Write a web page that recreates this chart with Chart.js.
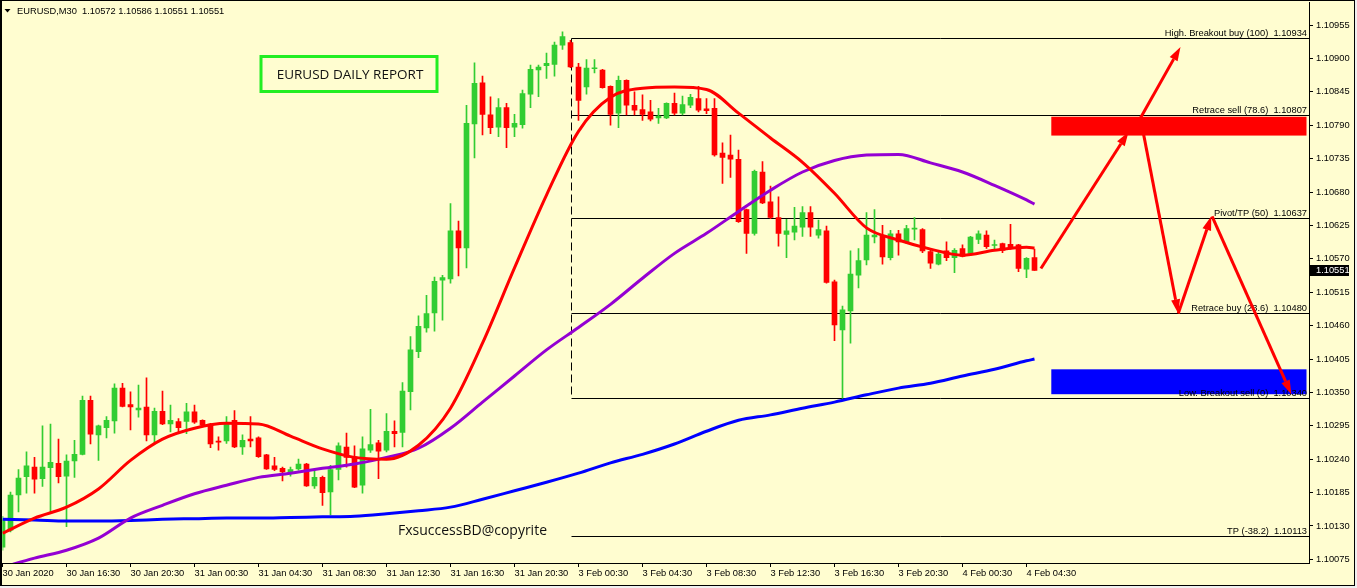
<!DOCTYPE html>
<html><head><meta charset="utf-8">
<script src="https://cdn.jsdelivr.net/npm/chart.js@4.4.1/dist/chart.umd.min.js"></script>
<style>
html,body{margin:0;padding:0;background:#f0f0f0;}
canvas{display:block;}
</style></head><body>
<canvas id="c" width="1357" height="588"></canvas>
<script>
const symbol = "EURUSD";
const timeframe = "M30";

const opens = [1.10095,1.10123,1.10181,1.10211,1.10227,1.10208,1.10226,1.10233,1.10212,1.10237,
1.10248,1.10337,1.10280,1.10292,1.10303,1.10357,1.10330,1.10321,1.10326,1.10280,
1.10319,1.10298,1.10302,1.10302,1.10318,1.10304,1.10298,1.10269,1.10270,1.10304,
1.10260,1.10273,1.10275,1.10247,1.10229,1.10225,1.10219,1.10224,1.10232,1.10196,
1.10210,1.10186,1.10223,1.10260,1.10244,1.10197,1.10255,1.10267,1.10255,1.10286,
1.10284,1.10351,1.10417,1.10456,1.10481,1.10535,1.10537,1.10616,1.10588,1.10792,
1.10860,1.10807,1.10787,1.10819,1.10787,1.10791,1.10841,1.10881,1.10888,1.10890,
1.10922,1.10926,1.10886,1.10853,1.10883,1.10881,1.10854,1.10810,1.10864,1.10823,
1.10816,1.10812,1.10802,1.10802,1.10826,1.10810,1.10823,1.10834,1.10817,1.10818,
1.10744,1.10741,1.10734,1.10651,1.10612,1.10713,1.10664,1.10638,1.10610,1.10614,
1.10622,1.10646,1.10609,1.10616,1.10532,1.10453,1.10484,1.10543,1.10568,1.10606,
1.10607,1.10572,1.10611,1.10598,1.10619,1.10618,1.10582,1.10561,1.10583,1.10572,
1.10587,1.10579,1.10602,1.10609,1.10592,1.10595,1.10594,1.10593,1.10553,1.10572];

const highs = [1.10146,1.10186,1.10223,1.10252,1.10243,1.10295,1.10298,1.10273,1.10247,1.10271,
1.10344,1.10344,1.10296,1.10310,1.10364,1.10365,1.10351,1.10362,1.10374,1.10324,
1.10352,1.10329,1.10307,1.10332,1.10329,1.10305,1.10299,1.10277,1.10310,1.10320,
1.10280,1.10310,1.10277,1.10248,1.10243,1.10227,1.10227,1.10240,1.10233,1.10222,
1.10212,1.10230,1.10267,1.10283,1.10262,1.10277,1.10322,1.10271,1.10315,1.10303,
1.10366,1.10442,1.10476,1.10510,1.10540,1.10543,1.10661,1.10632,1.10823,1.10893,
1.10871,1.10837,1.10834,1.10826,1.10808,1.10848,1.10889,1.10889,1.10909,1.10927,
1.10944,1.10930,1.10892,1.10898,1.10898,1.10882,1.10855,1.10871,1.10865,1.10845,
1.10840,1.10831,1.10818,1.10827,1.10843,1.10838,1.10841,1.10854,1.10834,1.10834,
1.10761,1.10774,1.10749,1.10652,1.10716,1.10730,1.10690,1.10672,1.10635,1.10655,
1.10656,1.10656,1.10634,1.10624,1.10535,1.10492,1.10583,1.10587,1.10646,1.10651,
1.10625,1.10617,1.10617,1.10625,1.10638,1.10620,1.10584,1.10582,1.10598,1.10587,
1.10593,1.10607,1.10616,1.10616,1.10601,1.10596,1.10627,1.10594,1.10572,1.10586];

const lows = [1.10090,1.10120,1.10153,1.10184,1.10184,1.10195,1.10153,1.10201,1.10129,1.10210,
1.10247,1.10265,1.10238,1.10275,1.10283,1.10326,1.10288,1.10309,1.10270,1.10267,
1.10297,1.10285,1.10285,1.10282,1.10299,1.10293,1.10259,1.10255,1.10266,1.10259,
1.10248,1.10260,1.10243,1.10223,1.10221,1.10204,1.10212,1.10222,1.10195,1.10192,
1.10164,1.10148,1.10206,1.10227,1.10193,1.10184,1.10251,1.10208,1.10252,1.10260,
1.10260,1.10321,1.10407,1.10449,1.10451,1.10469,1.10530,1.10542,1.10555,1.10736,
1.10774,1.10776,1.10771,1.10753,1.10771,1.10785,1.10819,1.10837,1.10867,1.10871,
1.10915,1.10885,1.10798,1.10841,1.10876,1.10851,1.10790,1.10786,1.10807,1.10807,
1.10798,1.10797,1.10793,1.10801,1.10807,1.10807,1.10819,1.10812,1.10809,1.10739,
1.10694,1.10704,1.10630,1.10579,1.10609,1.10661,1.10636,1.10591,1.10572,1.10601,
1.10607,1.10607,1.10604,1.10530,1.10435,1.10340,1.10431,1.10522,1.10560,1.10596,
1.10561,1.10568,1.10576,1.10595,1.10601,1.10580,1.10554,1.10560,1.10567,1.10547,
1.10573,1.10576,1.10595,1.10587,1.10584,1.10580,1.10586,1.10549,1.10539,1.10551];

const closes = [1.10140,1.10181,1.10209,1.10229,1.10207,1.10227,1.10235,1.10211,1.10237,1.10248,
1.10337,1.10281,1.10295,1.10304,1.10357,1.10327,1.10326,1.10324,1.10280,1.10319,
1.10298,1.10304,1.10292,1.10318,1.10301,1.10296,1.10265,1.10268,1.10300,1.10260,
1.10271,1.10270,1.10244,1.10224,1.10223,1.10219,1.10223,1.10232,1.10196,1.10210,
1.10185,1.10223,1.10262,1.10243,1.10194,1.10257,1.10264,1.10253,1.10286,1.10282,
1.10352,1.10420,1.10459,1.10480,1.10533,1.10539,1.10616,1.10588,1.10793,1.10859,
1.10808,1.10786,1.10819,1.10786,1.10793,1.10842,1.10882,1.10886,1.10892,1.10922,
1.10936,1.10886,1.10831,1.10884,1.10884,1.10852,1.10808,1.10864,1.10823,1.10815,
1.10808,1.10800,1.10805,1.10826,1.10810,1.10824,1.10836,1.10815,1.10814,1.10741,
1.10737,1.10734,1.10631,1.10612,1.10714,1.10662,1.10638,1.10612,1.10616,1.10624,
1.10646,1.10622,1.10618,1.10531,1.10461,1.10486,1.10545,1.10567,1.10609,1.10609,
1.10573,1.10611,1.10598,1.10620,1.10620,1.10583,1.10563,1.10578,1.10572,1.10584,
1.10574,1.10606,1.10611,1.10590,1.10593,1.10584,1.10589,1.10554,1.10571,1.10551];

// moving averages at these bar numbers
const maBars = [0,4,8,12,16,20,24,28,32,36,40,44,48,52,56,60,64,68,72,76,80,84,88,92,96,100,104,108,112,116,120,124,128,129];
const maFast = [1.10118,1.10143,1.10161,1.10191,1.10238,1.10273,1.10291,1.10299,1.10298,1.10278,1.10257,1.10243,1.10240,1.10263,1.10324,1.10431,1.10555,1.10675,1.10780,1.10836,1.10851,1.10853,1.10849,1.10810,1.10769,1.10729,1.10678,1.10621,1.10601,1.10586,1.10576,1.10584,1.10589,1.10588];
const maMid = [1.10062,1.10077,1.10090,1.10110,1.10143,1.10164,1.10183,1.10197,1.10210,1.10217,1.10225,1.10232,1.10243,1.10258,1.10291,1.10334,1.10377,1.10420,1.10457,1.10495,1.10538,1.10579,1.10612,1.10648,1.10683,1.10713,1.10732,1.10741,1.10742,1.10728,1.10713,1.10691,1.10667,1.10660];
const maSlow = [1.10141,1.10140,1.10138,1.10138,1.10139,1.10141,1.10142,1.10143,1.10143,1.10144,1.10145,1.10146,1.10150,1.10155,1.10161,1.10174,1.10188,1.10202,1.10217,1.10234,1.10248,1.10265,1.10286,1.10304,1.10313,1.10324,1.10334,1.10346,1.10357,1.10365,1.10377,1.10388,1.10402,1.10405];

const xTickBars = [0,8,16,24,32,40,48,56,64,72,80,88,96,104,112,120,128];
const xTickLabels = ["30 Jan 2020","30 Jan 16:30","30 Jan 20:30","31 Jan 00:30","31 Jan 04:30","31 Jan 08:30","31 Jan 12:30","31 Jan 16:30","31 Jan 20:30","3 Feb 00:30","3 Feb 04:30","3 Feb 08:30","3 Feb 12:30","3 Feb 16:30","3 Feb 20:30","4 Feb 00:30","4 Feb 04:30"];
const yTicks = [1.10075,1.10130,1.10185,1.10240,1.10295,1.10350,1.10405,1.10460,1.10515,1.10570,1.10625,1.10680,1.10735,1.10790,1.10845,1.10900,1.10955];
const yMin = 1.10069, yMax = 1.10993;
const xMax = 163.3125;

const fibLevels = [1.10934,1.10807,1.10637,1.10480,1.10340,1.10113];
const fibNames = ["High. Breakout buy (100)","Retrace sell (78.6)","Pivot/TP (50)","Retrace buy (23.6)","Low. Breakout sell (0)","TP (-38.2)"];
const fibStartBar = 71;
const sellZone = [131.1, 163.0, 1.10773, 1.10804];
const buyZone = [131.1, 163.0, 1.10347, 1.10388];
const arrows = [
  [129.8,1.10554,140.75,1.10779],
  [141.1,1.10775,147.25,1.10919],
  [142.3,1.10798,146.97,1.10480],
  [146.97,1.10480,151.1,1.10640],
  [151.2,1.10640,161.1,1.10347]
];
const reportTitle = "EURUSD DAILY REPORT";
const copyrightText = "FxsuccessBD@copyrite";

const BG = "rgb(255,253,208)";
const UP = "#32CD32", DOWN = "#FF0000";
const AXFONT = "'Liberation Sans', Arial, sans-serif";
const barColors = opens.map((o,i)=> closes[i] >= o ? UP : DOWN);

function zeroPad(s){ s.paddingTop = 0; s.paddingBottom = 0; s.paddingLeft = 0; s.paddingRight = 0; }

const overlay = {
  id:'overlay',
  beforeDraw(chart){
    const ctx = chart.ctx;
    ctx.save();
    ctx.fillStyle = "#f0f0f0"; ctx.fillRect(0,0,1357,588);
    ctx.fillStyle = BG; ctx.fillRect(0,0,1355,586);
    ctx.restore();
  },
  beforeDatasetsDraw(chart){
    const ctx = chart.ctx, x = chart.scales.x, y = chart.scales.y, ca = chart.chartArea;
    ctx.save();
    ctx.beginPath(); ctx.rect(ca.left-3, ca.top, ca.right-ca.left+3, ca.bottom-ca.top); ctx.clip();
    [[sellZone,"#FF0000"],[buyZone,"#0000FF"]].forEach(([z,c])=>{
      const x0 = x.getPixelForValue(z[0]), x1 = x.getPixelForValue(z[1]);
      const y0 = y.getPixelForValue(z[3]), y1 = y.getPixelForValue(z[2]);
      ctx.fillStyle = c; ctx.fillRect(x0,y0,x1-x0,y1-y0);
    });
    const fx = Math.round(x.getPixelForValue(fibStartBar)) + 0.5;
    ctx.strokeStyle = "#000"; ctx.lineWidth = 1;
    ctx.font = "9.3px " + AXFONT; ctx.fillStyle = "#000"; ctx.textAlign = "right"; ctx.textBaseline = "alphabetic";
    fibLevels.forEach((lv,k)=>{
      const py = Math.round(y.getPixelForValue(lv)) + 0.5;
      ctx.beginPath(); ctx.moveTo(fx, py); ctx.lineTo(ca.right, py); ctx.stroke();
      ctx.fillText(fibNames[k] + "  " + lv.toFixed(5), ca.right - 2, py - 2.5);
    });
    ctx.setLineDash([8,4]);
    ctx.beginPath();
    ctx.moveTo(fx, Math.round(y.getPixelForValue(fibLevels[0]))+0.5);
    ctx.lineTo(fx, Math.round(y.getPixelForValue(fibLevels[4]))+0.5);
    ctx.stroke();
    ctx.setLineDash([]);
    ctx.strokeStyle = "#22EE22"; ctx.lineWidth = 3;
    ctx.strokeRect(261, 56.5, 176, 35);
    ctx.fillStyle = "#111"; ctx.textAlign = "center";
    ctx.font = "13.5px 'Open Sans', 'Noto Sans', sans-serif";
    ctx.fillText(reportTitle, 350, 79);
    ctx.textAlign = "left";
    ctx.font = "14px 'Open Sans', 'Noto Sans', sans-serif";
    ctx.fillText(copyrightText, 398, 535);
    ctx.restore();
  },
  afterDatasetsDraw(chart){
    const ctx = chart.ctx, x = chart.scales.x, y = chart.scales.y;
    ctx.save();
    ctx.strokeStyle = "#FF0000"; ctx.fillStyle = "#FF0000"; ctx.lineWidth = 3; ctx.lineCap = "butt";
    arrows.forEach(a=>{
      const x1 = x.getPixelForValue(a[0]), y1 = y.getPixelForValue(a[1]);
      const x2 = x.getPixelForValue(a[2]), y2 = y.getPixelForValue(a[3]);
      const ang = Math.atan2(y2-y1, x2-x1), L = 14, W = 4.5;
      const bx = x2 - L*Math.cos(ang), by = y2 - L*Math.sin(ang);
      ctx.beginPath(); ctx.moveTo(x1,y1); ctx.lineTo(bx,by); ctx.stroke();
      ctx.beginPath();
      ctx.moveTo(x2,y2);
      ctx.lineTo(bx + W*Math.sin(ang), by - W*Math.cos(ang));
      ctx.lineTo(bx - W*Math.sin(ang), by + W*Math.cos(ang));
      ctx.closePath(); ctx.fill();
    });
    ctx.restore();
  },
  afterDraw(chart){
    const ctx = chart.ctx, y = chart.scales.y, ca = chart.chartArea;
    ctx.save();
    const n = opens.length - 1;
    ctx.fillStyle = "#000";
    ctx.beginPath(); ctx.moveTo(4.5,9); ctx.lineTo(10.5,9); ctx.lineTo(7.5,12.5); ctx.closePath(); ctx.fill();
    ctx.font = "9.3px " + AXFONT; ctx.textAlign = "left"; ctx.textBaseline = "alphabetic";
    ctx.fillText(symbol + "," + timeframe + "  " + [opens[n],highs[n],lows[n],closes[n]].map(v=>v.toFixed(5)).join(" "), 17, 13.5);
    const last = closes[n];
    const py = Math.round(y.getPixelForValue(last));
    ctx.fillStyle = "#000"; ctx.fillRect(ca.right+1, py-5, 39, 11);
    ctx.fillStyle = "#fff"; ctx.textBaseline = "middle";
    ctx.fillText(last.toFixed(5), ca.right + 7, py + 0.5);
    ctx.strokeStyle = "#000"; ctx.lineWidth = 1;
    ctx.strokeRect(0.5, 0.5, 1354, 585);
    ctx.fillStyle = "#000"; ctx.fillRect(0,0,2,586);
    ctx.restore();
  }
};

new Chart(document.getElementById('c'), {
  type: 'bar',
  data: {
    datasets: [
      { type:'line', data: maBars.map((b,k)=>({x:b,y:maFast[k]})), borderColor:"#FF0000", borderWidth:3, pointRadius:0, cubicInterpolationMode:'monotone', order:0 },
      { type:'line', data: maBars.map((b,k)=>({x:b,y:maMid[k]})), borderColor:"#9400D3", borderWidth:3, pointRadius:0, cubicInterpolationMode:'monotone', order:0 },
      { type:'line', data: maBars.map((b,k)=>({x:b,y:maSlow[k]})), borderColor:"#0000FF", borderWidth:3, pointRadius:0, cubicInterpolationMode:'monotone', order:0 },
      { type:'bar', data: opens.map((o,i)=>({x:i, y:[o, closes[i]]})), backgroundColor: barColors, barThickness:5, grouped:false, borderWidth:0, minBarLength:1, order:1 },
      { type:'bar', data: opens.map((o,i)=>({x:i, y:[lows[i], highs[i]]})), backgroundColor: barColors, barThickness:1, grouped:false, borderWidth:0, minBarLength:1, order:2 }
    ]
  },
  options: {
    responsive:false, animation:false, devicePixelRatio:1,
    layout:{ padding:{ left:2.5, top:2, right:0, bottom:0 } },
    plugins:{ legend:{display:false}, tooltip:{enabled:false} },
    scales:{
      x:{ type:'linear', min:0, max:xMax, offset:false,
        grid:{ display:true, drawOnChartArea:false, drawTicks:true, tickLength:4, color:"#000", offset:false },
        border:{ display:true, color:"#000", width:1 },
        afterBuildTicks: s => { s.ticks = xTickBars.map(v=>({value:v})); },
        afterFit: s => { s.height = 25; zeroPad(s); },
        ticks:{ autoSkip:false, maxRotation:0, minRotation:0, align:'start', padding:1, color:"#000",
          font:{ family:AXFONT, size:9.3 }, callback: v => xTickLabels[xTickBars.indexOf(v)] }
      },
      y:{ position:'right', min:yMin, max:yMax,
        grid:{ display:true, drawOnChartArea:false, drawTicks:true, tickLength:4, color:"#000" },
        border:{ display:true, color:"#000", width:1 },
        afterBuildTicks: s => { s.ticks = yTicks.map(v=>({value:v})); },
        afterFit: s => { s.width = 48; zeroPad(s); },
        ticks:{ padding:3, color:"#000", font:{ family:AXFONT, size:9.3 }, callback: v => v.toFixed(5) }
      }
    }
  },
  plugins:[overlay]
});
</script>
</body></html>
